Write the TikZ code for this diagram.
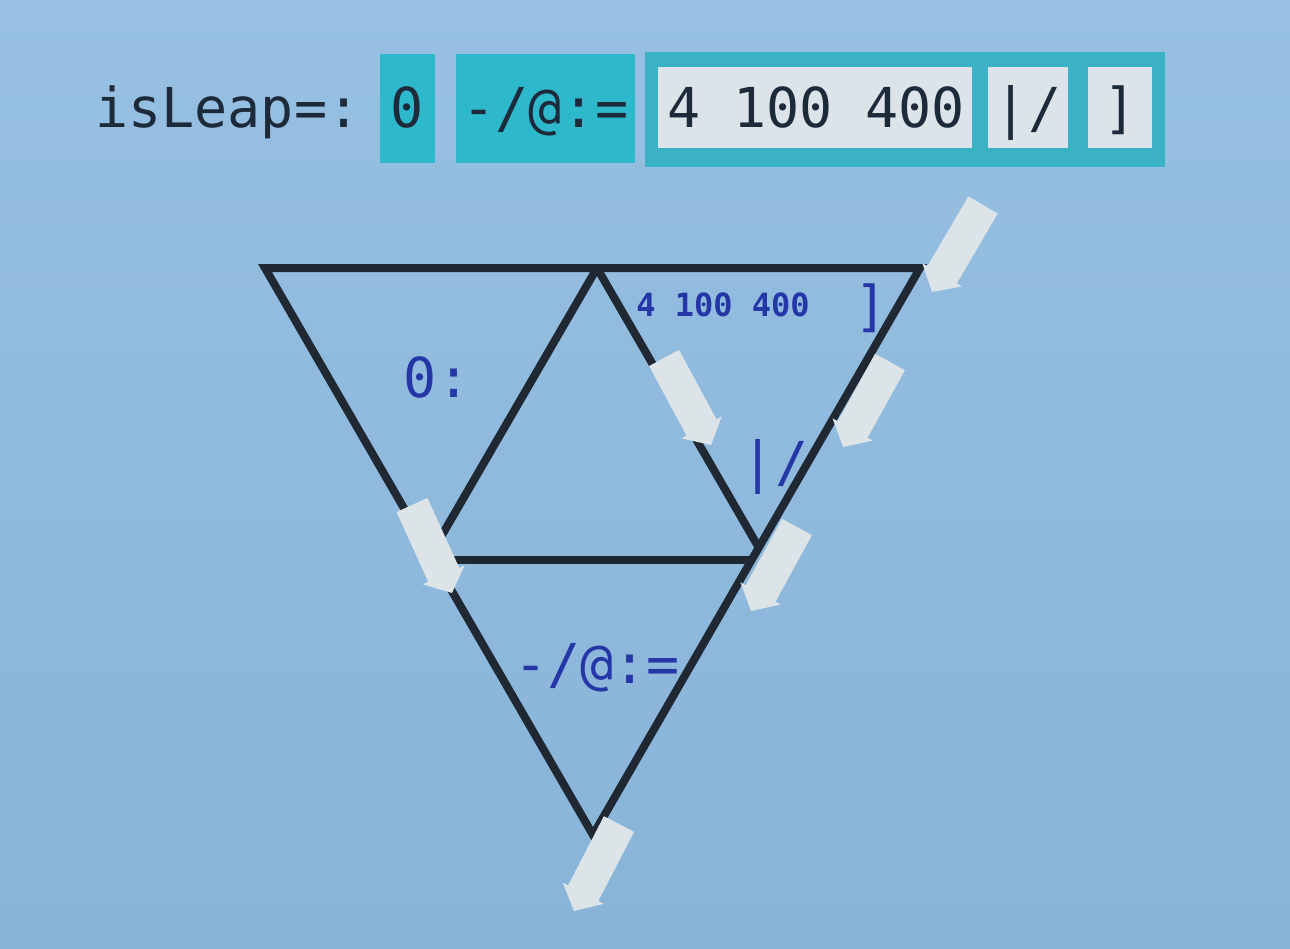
\documentclass[tikz,border=0pt]{standalone}
\usepackage{fontspec}
\setmonofont{DejaVu Sans Mono}
\usetikzlibrary{calc}
\definecolor{bgtop}{HTML}{97C0E2}
\definecolor{bgbot}{HTML}{88B4D8}
\definecolor{ink}{HTML}{1D2A3A}
\definecolor{lblue}{HTML}{2537A6}
\definecolor{edgec}{HTML}{1F2833}
\definecolor{tealA}{HTML}{2DB8CC}
\definecolor{tealB}{HTML}{3AB1C4}
\definecolor{paleboxc}{HTML}{DCE4E9}
\definecolor{arrowc}{HTML}{DDE4E8}
\tikzset{
  code/.style={font=\ttfamily\fontsize{27.5}{30}\selectfont, text=ink, inner sep=0pt},
  lbl/.style={font=\ttfamily\fontsize{27.5}{30}\selectfont, text=lblue, inner sep=0pt},
  smalllbl/.style={font=\ttfamily\bfseries\fontsize{16}{18}\selectfont, text=lblue, inner sep=0pt},
  edgeline/.style={line width=4pt, draw=edgec, line join=miter},
  tealbox/.style={fill=tealA, draw=none},
  bigbox/.style={fill=tealB, draw=none},
  palebox/.style={fill=paleboxc, draw=none},
  flowarr/.style={fill=arrowc, draw=none},
}
\newcommand\fatflow[2]{%
  \fill[flowarr] ($(#1)!8.5pt!90:(#2)$)
    -- ($($(#2)!10pt!(#1)$)!8.5pt!-90:(#1)$)
    -- ($($(#2)!10pt!(#1)$)!11.5pt!-90:(#1)$)
    -- (#2)
    -- ($($(#2)!10pt!(#1)$)!11.5pt!90:(#1)$)
    -- ($($(#2)!10pt!(#1)$)!8.5pt!90:(#1)$)
    -- ($(#1)!8.5pt!-90:(#2)$) -- cycle;}
\begin{document}
\begin{tikzpicture}[x=0.5pt,y=-0.5pt]
\useasboundingbox (0,0) rectangle (1290,948);
\shade[top color=bgtop, bottom color=bgbot] (0,0) rectangle (1290,948);

% --- top expression ---
\node[code, anchor=base west] (isleap) at (95,127) {isLeap=:};
\fill[tealbox] (380,54) rectangle (435,163);
\node[code, anchor=base] (zero) at (407.5,127) {0};
\fill[tealbox] (456,54) rectangle (635,163);
\node[code, anchor=base] (amend) at (545.5,127) {-/@:=};
\fill[bigbox] (645,52) rectangle (1165,167);
\fill[palebox] (658,67) rectangle (972,148);
\node[code, anchor=base] (nums) at (816,127) {4 100 400};
\fill[palebox] (988,67) rectangle (1068,148);
\node[code, anchor=base] (ors) at (1028,127) {|/};
\fill[palebox] (1088,67) rectangle (1152,148);
\node[code, anchor=base] (rbr) at (1120,127) {]};

% --- triangle diagram ---
\coordinate (TL) at (265,268);
\coordinate (TR) at (920,268);
\coordinate (TM) at (597,268);
\coordinate (B)  at (593,835);
\coordinate (LA) at (431,554);
\coordinate (RA) at (759,548);
\coordinate (ML) at (434,560);
\coordinate (MR) at (752,560);

\draw[edgeline] (TL) -- (TR) -- (B) -- cycle;
\draw[edgeline, line join=bevel] (LA) -- (TM) -- (RA);
\draw[edgeline] (ML) -- (MR);

\node[lbl, anchor=base] (l0) at (437,397) {0:};
\node[smalllbl, anchor=base] (lnums) at (723,316) {4 100 400};
\node[lbl] (lrbr) at (871,308) {]};
\node[lbl] (lors) at (775,467) {|/};
\node[lbl, anchor=base] (lamend) at (597,683) {-/@:=};

% --- flow arrows ---
\coordinate (a1s) at (983,205); \coordinate (a1e) at (932,292);
\coordinate (a2s) at (664,358); \coordinate (a2e) at (711,445);
\coordinate (a3s) at (890,362); \coordinate (a3e) at (843,447);
\coordinate (a4s) at (412,505); \coordinate (a4e) at (452,593);
\coordinate (a5s) at (797,527); \coordinate (a5e) at (751,611);
\coordinate (a6s) at (619,824); \coordinate (a6e) at (574,911);
\fatflow{a1s}{a1e}
\fatflow{a2s}{a2e}
\fatflow{a3s}{a3e}
\fatflow{a4s}{a4e}
\fatflow{a5s}{a5e}
\fatflow{a6s}{a6e}
\end{tikzpicture}
\end{document}
